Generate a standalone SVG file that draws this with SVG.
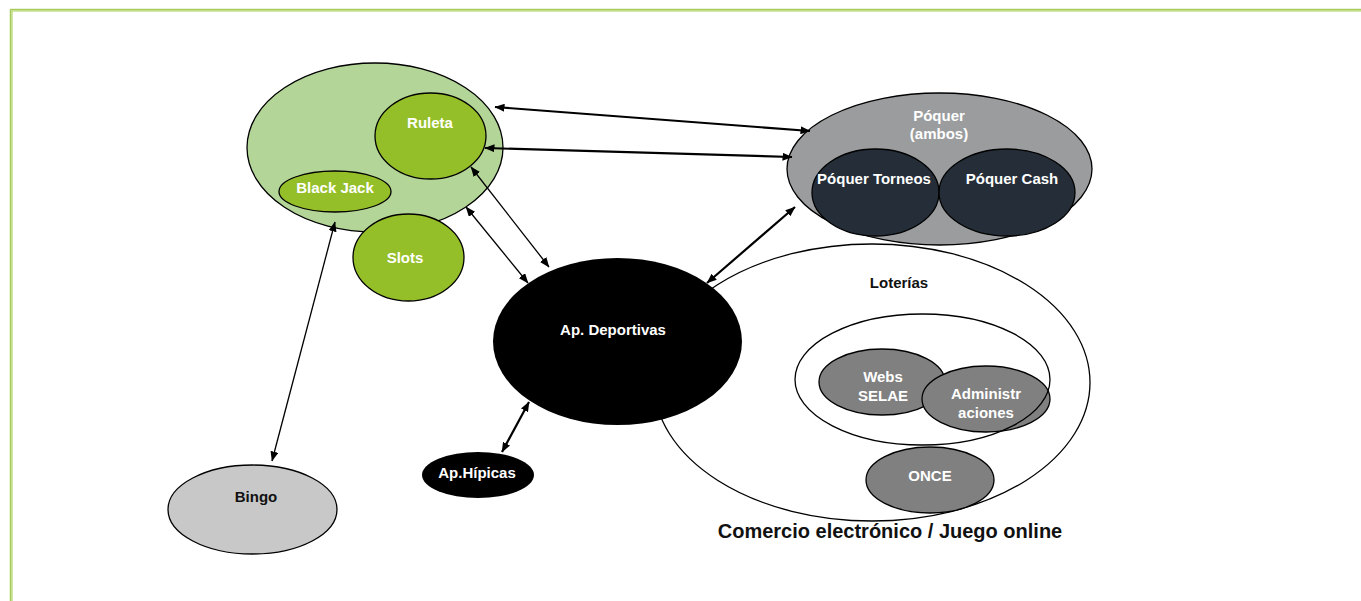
<svg xmlns="http://www.w3.org/2000/svg" width="1361" height="601" viewBox="0 0 1361 601">
<style>
.lbl{font-family:"Liberation Sans",Arial,sans-serif;font-weight:bold;font-size:15px;text-anchor:middle;fill:#ffffff}
.dark{fill:#111111}
.ol{stroke:#000;stroke-width:1.3}
.con{fill:none;stroke:#000}
.thin{stroke-width:1.3}
.thick{stroke-width:2.2}
</style>
<defs>
<marker id="ah" viewBox="0 0 10 8" refX="9.5" refY="4" markerWidth="10" markerHeight="8" markerUnits="userSpaceOnUse" orient="auto-start-reverse">
<path d="M0,0 L10,4 L0,8 z" fill="#000"/>
</marker>
</defs>
<rect width="1361" height="601" fill="#ffffff"/>
<g id="frame">
<path d="M11.5,601 V10.5 H1361" fill="none" stroke="#c3e08c" stroke-width="2.5"/>
<path d="M10.3,601 V9.3 H1361" fill="none" stroke="#9cc24c" stroke-width="1"/>
</g>
<g id="poquer">
<ellipse cx="939.5" cy="169" rx="152.5" ry="76" fill="#9a9c9e" class="ol"/>
<text class="lbl" x="939" y="121">Póquer</text>
<text class="lbl" x="939" y="139">(ambos)</text>
</g>
<g id="poquer-torneos">
<ellipse cx="875.5" cy="192.5" rx="63.5" ry="43.5" fill="#252e38" class="ol"/>
<text class="lbl" x="874" y="184">Póquer Torneos</text>
</g>
<g id="poquer-cash">
<ellipse cx="1007" cy="192.5" rx="68" ry="43.5" fill="#252e38" class="ol"/>
<text class="lbl" x="1012" y="184">Póquer Cash</text>
</g>
<g id="loterias">
<ellipse cx="872" cy="382.5" rx="218" ry="138.5" fill="none" class="ol"/>
<text class="lbl dark" x="899" y="288">Loterías</text>
<ellipse cx="922.5" cy="379.5" rx="127.5" ry="65.5" fill="#ffffff" stroke="none"/>
</g>
<g id="webs-selae">
<ellipse cx="882" cy="382" rx="63" ry="33" fill="#808080" class="ol"/>
<text class="lbl" x="883" y="382">Webs</text>
<text class="lbl" x="883" y="401">SELAE</text>
</g>
<g id="administraciones">
<ellipse cx="986" cy="399" rx="64" ry="33" fill="#808080" class="ol"/>
<text class="lbl" x="986" y="399">Administr</text>
<text class="lbl" x="986" y="418">aciones</text>
</g>
<g id="loterias-inner">
<ellipse cx="922.5" cy="379.5" rx="127.5" ry="65.5" fill="none" class="ol"/>
</g>
<g id="once">
<ellipse cx="930" cy="480" rx="64" ry="33" fill="#808080" class="ol"/>
<text class="lbl" x="930" y="481">ONCE</text>
</g>
<g id="casino">
<ellipse cx="375" cy="147.5" rx="128" ry="84.5" fill="#b3d597" class="ol"/>
</g>
<g id="ruleta">
<ellipse cx="430.5" cy="136" rx="55.5" ry="43" fill="#95bf29" class="ol"/>
<text class="lbl" x="430" y="128">Ruleta</text>
</g>
<g id="black-jack">
<ellipse cx="335" cy="191.5" rx="56" ry="20.5" fill="#95bf29" class="ol"/>
<text class="lbl" x="335" y="193">Black Jack</text>
</g>
<g id="slots">
<ellipse cx="408.5" cy="257.5" rx="55.5" ry="43.5" fill="#95bf29" class="ol"/>
<text class="lbl" x="405" y="263">Slots</text>
</g>
<g id="ap-deportivas">
<ellipse cx="617.5" cy="341.5" rx="124.5" ry="83.5" fill="#000000"/>
<text class="lbl" x="613" y="335">Ap. Deportivas</text>
</g>
<g id="bingo">
<ellipse cx="252.5" cy="509.5" rx="84.5" ry="44.5" fill="#c8c8c8" class="ol"/>
<text class="lbl dark" x="256" y="502">Bingo</text>
</g>
<g id="ap-hipicas">
<ellipse cx="478" cy="475" rx="56" ry="23" fill="#000000"/>
<text class="lbl" x="477" y="478">Ap.Hípicas</text>
</g>
<g id="connectors">
<line class="con thick" x1="495" y1="107" x2="810" y2="131" marker-start="url(#ah)" marker-end="url(#ah)"/>
<line class="con thick" x1="485" y1="148" x2="792" y2="157" marker-start="url(#ah)" marker-end="url(#ah)"/>
<line class="con thin" x1="471" y1="167" x2="549" y2="267" marker-start="url(#ah)" marker-end="url(#ah)"/>
<line class="con thin" x1="466" y1="207" x2="528" y2="283" marker-start="url(#ah)" marker-end="url(#ah)"/>
<line class="con thin" x1="335" y1="222" x2="272" y2="461" marker-start="url(#ah)" marker-end="url(#ah)"/>
<line class="con thick" x1="707" y1="283" x2="795" y2="207" marker-start="url(#ah)" marker-end="url(#ah)"/>
<line class="con thick" x1="529" y1="402" x2="502" y2="452" marker-start="url(#ah)" marker-end="url(#ah)"/>
</g>
<text x="890" y="538" style="font-family:'Liberation Sans',Arial,sans-serif;font-weight:bold;font-size:20px;text-anchor:middle;fill:#111">Comercio electrónico / Juego online</text>
</svg>
